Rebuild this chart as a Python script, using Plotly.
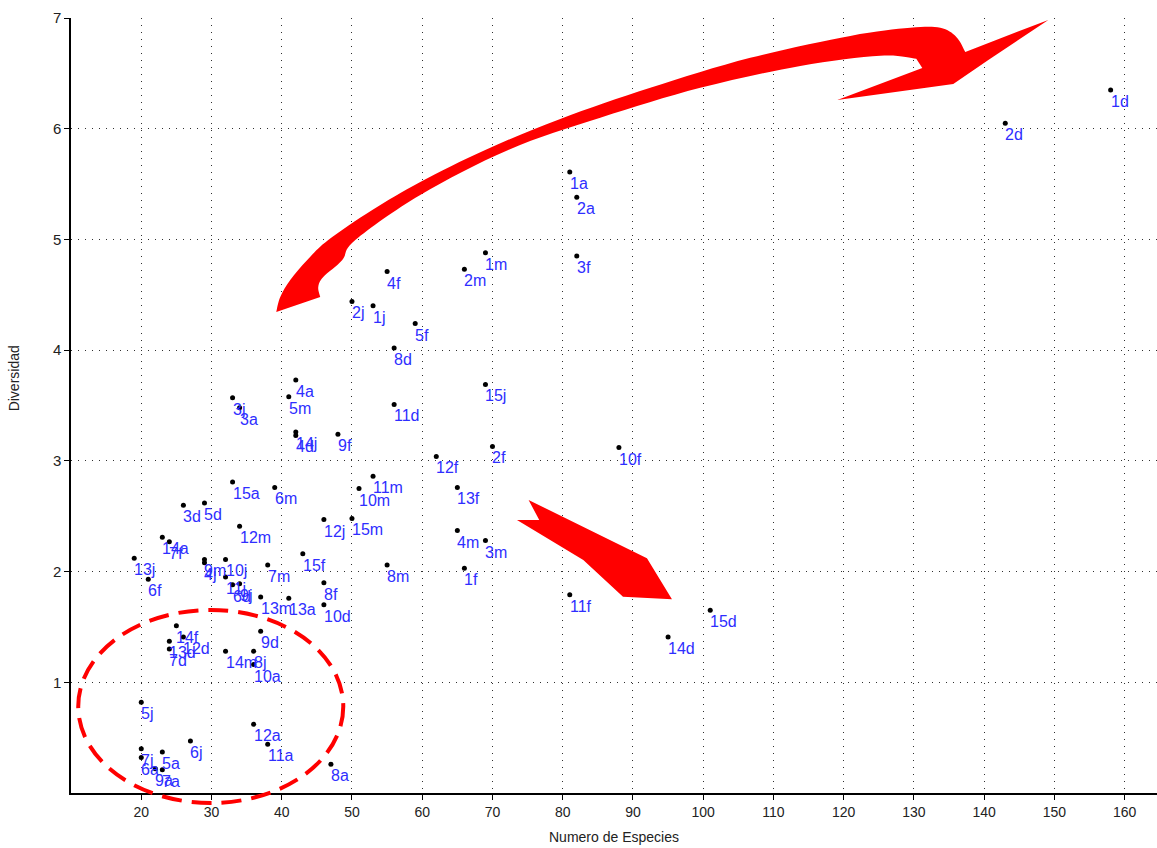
import plotly.graph_objects as go

# Muestras: numero de especies vs. diversidad
etiquetas = [
    "1d", "2d", "1a", "2a", "3f", "1m", "2m", "4f", "2j", "1j",
    "5f", "8d", "4a", "5m", "11d", "15j", "3j", "3a", "14j", "4d",
    "9f", "12f", "15a", "6m", "11m", "10m", "2f", "13f", "12j", "15m",
    "4m", "3m", "15f", "8m", "1f", "8f", "10d", "13a", "10f", "11f",
    "15d", "14d", "3d", "5d", "12m", "14a", "7f", "13j", "6f", "9m",
    "4j", "10j", "7m", "11j", "6d", "9j", "13m", "14f", "12d", "13d",
    "7d", "9d", "14m", "8j", "10a", "5j", "12a", "11a", "6j", "8a",
    "7j", "6a", "5a", "9a", "7a",
]
especies = [
    158, 143, 81, 82, 82, 69, 66, 55, 50, 53,
    59, 56, 42, 41, 56, 69, 33, 34, 42, 42,
    48, 62, 33, 39, 53, 51, 70, 65, 46, 50,
    65, 69, 43, 55, 66, 46, 46, 41, 88, 81,
    101, 95, 26, 29, 34, 23, 24, 19, 21, 29,
    29, 32, 38, 32, 33, 34, 37, 25, 26, 24,
    24, 37, 32, 36, 36, 20, 36, 38, 27, 47,
    20, 20, 23, 22, 23,
]
diversidad = [
    6.35, 6.05, 5.61, 5.38, 4.85, 4.88, 4.73, 4.71, 4.44, 4.40,
    4.24, 4.02, 3.73, 3.58, 3.51, 3.69, 3.57, 3.48, 3.26, 3.23,
    3.24, 3.04, 2.81, 2.76, 2.86, 2.75, 3.13, 2.76, 2.47, 2.48,
    2.37, 2.28, 2.16, 2.06, 2.03, 1.90, 1.70, 1.76, 3.12, 1.79,
    1.65, 1.41, 2.60, 2.62, 2.41, 2.31, 2.27, 2.12, 1.93, 2.11,
    2.08, 2.11, 2.06, 1.95, 1.88, 1.89, 1.77, 1.51, 1.41, 1.37,
    1.30, 1.46, 1.28, 1.28, 1.16, 0.82, 0.62, 0.44, 0.47, 0.26,
    0.40, 0.32, 0.37, 0.22, 0.21,
]

x_ticks = list(range(20, 161, 10))
y_ticks = [1, 2, 3, 4, 5, 6, 7]
X_RANGE = [10, 164.6]
Y_RANGE = [0, 7]

ROJO = "#ff0000"
AZUL = "#2e2eff"
FUENTE = "Liberation Sans, Arial, sans-serif"

fig = go.Figure()
fig.add_trace(go.Scatter(
    x=especies, y=diversidad, mode="markers",
    marker=dict(color="black", size=5),
    hoverinfo="skip", cliponaxis=False,
))

# Etiquetas de cada muestra, abajo a la derecha del punto
rotulos = [
    dict(x=e, y=d, text=t, xref="x", yref="y", xanchor="left", yanchor="top",
         showarrow=False, xshift=-1, yshift=-2, borderpad=0,
         font=dict(family=FUENTE, size=16, color=AZUL))
    for e, d, t in zip(especies, diversidad, etiquetas)
]


def curva(puntos):
    """Segmentos Catmull-Rom convertidos a Bezier cubicas."""
    segs = []
    n = len(puntos)
    for i in range(n - 1):
        p0 = puntos[max(i - 1, 0)]
        p1 = puntos[i]
        p2 = puntos[i + 1]
        p3 = puntos[min(i + 2, n - 1)]
        c1 = (p1[0] + (p2[0] - p0[0]) / 6, p1[1] + (p2[1] - p0[1]) / 6)
        c2 = (p2[0] - (p3[0] - p1[0]) / 6, p2[1] - (p3[1] - p1[1]) / 6)
        segs.append(f"C {c1[0]:.3f},{c1[1]:.3f} {c2[0]:.3f},{c2[1]:.3f} {p2[0]:.3f},{p2[1]:.3f}")
    return " ".join(segs)


def recta(puntos):
    return " ".join(f"L {x:.3f},{y:.3f}" for x, y in puntos)


# Flecha curva grande: borde superior, punta y borde inferior (unidades de datos)
borde_sup = [
    (39.22, 4.345), (39.79, 4.481), (41.21, 4.634), (43.63, 4.815), (46.62, 4.995),
    (52.89, 5.266), (59.72, 5.519), (68.97, 5.808), (79.65, 6.088), (92.47, 6.369),
    (106.70, 6.640), (120.94, 6.838), (129.48, 6.911), (133.75, 6.911), (136.03, 6.829),
    (137.31, 6.694),
]
punta = [(149.13, 6.983), (140.59, 6.621), (135.60, 6.405), (119.09, 6.260), (131.19, 6.549)]
borde_inf = [
    (130.33, 6.631), (125.21, 6.658), (113.82, 6.567), (99.58, 6.369), (85.35, 6.098),
    (72.25, 5.808), (59.72, 5.402), (50.47, 4.995), (48.62, 4.815), (45.91, 4.661),
    (45.20, 4.571), (45.48, 4.481),
]
trazo_curvo = (
    f"M {borde_sup[0][0]},{borde_sup[0][1]} " + curva(borde_sup) + " "
    + recta(punta) + " " + recta(borde_inf[:1]) + " " + curva(borde_inf) + " Z"
)

# Flecha recta (hacia abajo a la derecha)
flecha_recta = [
    (75.14, 2.647), (91.99, 2.120), (95.55, 1.750), (88.58, 1.773),
    (82.93, 2.105), (73.49, 2.466), (76.66, 2.466),
]
trazo_recto = f"M {flecha_recta[0][0]},{flecha_recta[0][1]} " + recta(flecha_recta[1:]) + " Z"

shapes = [
    dict(type="path", xref="x", yref="y", path=trazo_curvo,
         fillcolor=ROJO, line=dict(width=0), layer="above"),
    dict(type="path", xref="x", yref="y", path=trazo_recto,
         fillcolor=ROJO, line=dict(width=0), layer="above"),
]

# Elipse discontinua alrededor del grupo de baja diversidad (en unidades de datos)
elipse_x = (11.03, 48.76)
elipse_y = (-0.09, 1.653)


def a_papel_x(v):
    return (v - X_RANGE[0]) / (X_RANGE[1] - X_RANGE[0])


def a_papel_y(v):
    return (v - Y_RANGE[0]) / (Y_RANGE[1] - Y_RANGE[0])


shapes.append(dict(
    type="circle", xref="paper", yref="paper",
    x0=a_papel_x(elipse_x[0]), x1=a_papel_x(elipse_x[1]),
    y0=a_papel_y(elipse_y[0]), y1=a_papel_y(elipse_y[1]),
    line=dict(color=ROJO, width=4, dash="20px,10px"), layer="above",
))

eje = dict(
    showline=True, linecolor="black", linewidth=1.5,
    ticks="outside", ticklen=5, tickcolor="black", tickwidth=1,
    showgrid=True, gridcolor="#303030", gridwidth=1, griddash="1px,6px",
    zeroline=False, mirror=False,
)

fig.update_layout(
    width=1157, height=848,
    margin=dict(l=71, r=0, t=18, b=55),
    paper_bgcolor="white", plot_bgcolor="white",
    showlegend=False,
    shapes=shapes,
    xaxis=dict(eje, range=X_RANGE, tickvals=x_ticks,
               tickfont=dict(family="Liberation Sans Narrow, Arial Narrow, Liberation Sans, sans-serif",
                             size=14, color="#222")),
    yaxis=dict(eje, range=Y_RANGE, tickvals=y_ticks,
               tickfont=dict(family=FUENTE, size=15, color="#222")),
    annotations=rotulos + [
        dict(text="Numero de Especies", xref="paper", yref="paper", x=0.5, y=-0.057,
             xanchor="center", yanchor="middle", showarrow=False,
             font=dict(family=FUENTE, size=14, color="#222")),
        dict(text="Diversidad", xref="paper", yref="paper", x=-0.0525, y=0.535,
             xanchor="center", yanchor="middle", showarrow=False, textangle=-90,
             font=dict(family=FUENTE, size=14, color="#222")),
    ],
)

fig.write_html("out.html")
